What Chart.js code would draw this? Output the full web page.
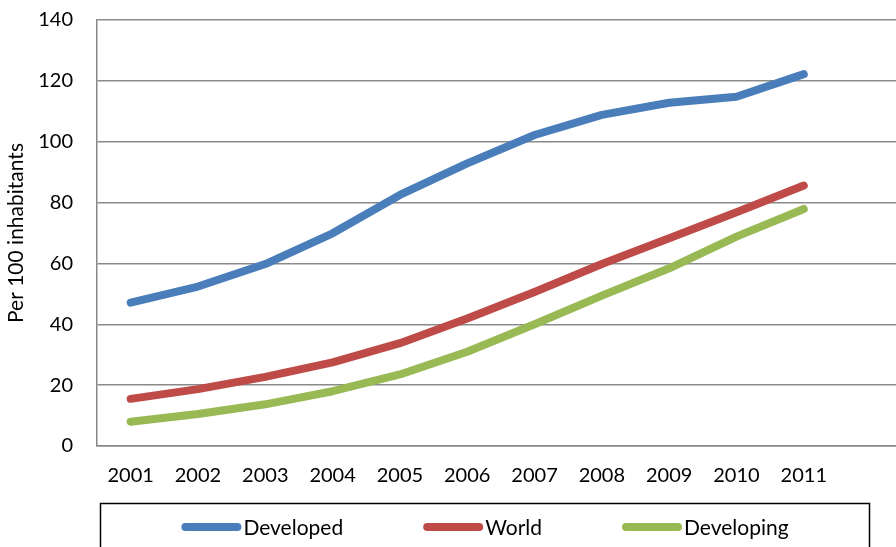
<!DOCTYPE html>
<html>
<head>
<meta charset="utf-8">
<script src="https://cdn.jsdelivr.net/npm/chart.js@4.4.0/dist/chart.umd.min.js"></script>
<style>
  html, body { margin: 0; padding: 0; background: #fff; overflow: hidden; }
  #wrap { width: 896px; height: 547px; position: relative; }
</style>
</head>
<body>
<div id="wrap"><canvas id="chart"></canvas></div>
<script>
// data (per 100 inhabitants)
var years = [2001, 2002, 2003, 2004, 2005, 2006, 2007, 2008, 2009, 2010, 2011];
var developed = [47.1, 52.4, 59.8, 69.9, 82.5, 92.9, 102.2, 108.8, 112.8, 114.8, 122.2];
var world = [15.5, 18.7, 22.7, 27.5, 33.8, 41.9, 50.6, 59.8, 68.3, 76.8, 85.6];
var developing = [8.0, 10.5, 13.7, 18.0, 23.5, 31.0, 40.0, 49.4, 58.4, 68.8, 77.9];
var yTicks = [0, 20, 40, 60, 80, 100, 120, 140];

var FONT = 'Lato';

function pts(vals) {
  return vals.map(function (v, i) { return { x: years[i], y: v }; });
}

function series(label, vals, color) {
  return {
    label: label,
    data: pts(vals),
    borderColor: color,
    backgroundColor: color,
    borderWidth: 8,
    borderCapStyle: 'round',
    borderJoinStyle: 'round',
    pointRadius: 0,
    tension: 0,
    fill: false
  };
}

// legend in a framed box under the axis, like the original
var boxLegend = {
  id: 'boxLegend',
  afterDraw: function (chart) {
    var ctx = chart.ctx;
    ctx.save();
    ctx.strokeStyle = '#000';
    ctx.lineWidth = 1.5;
    ctx.strokeRect(100.5, 503.5, 769, 70);
    ctx.font = '21px ' + FONT;
    var items = chart.data.datasets.map(function (d) {
      return { label: d.label, color: d.borderColor, w: 62 + ctx.measureText(d.label).width };
    });
    var gap = 80;
    var total = items.reduce(function (s, it) { return s + it.w; }, 0) + gap * (items.length - 1);
    var x = 485 - total / 2;
    var y = 527;
    items.forEach(function (it) {
      ctx.beginPath();
      ctx.lineCap = 'round';
      ctx.lineWidth = 8;
      ctx.strokeStyle = it.color;
      ctx.moveTo(x + 4, y);
      ctx.lineTo(x + 56, y);
      ctx.stroke();
      ctx.fillStyle = '#000';
      ctx.textBaseline = 'middle';
      ctx.textAlign = 'left';
      ctx.fillText(it.label, x + 62, y + 1);
      x += it.w + gap;
    });
    ctx.restore();
  }
};

new Chart(document.getElementById('chart'), {
  type: 'line',
  data: {
    datasets: [
      series('Developed', developed, '#4a7ebb'),
      series('World', world, '#be4b48'),
      series('Developing', developing, '#98b954')
    ]
  },
  options: {
    responsive: true,
    maintainAspectRatio: false,
    animation: false,
    layout: { padding: { top: 20, right: 0, bottom: 0, left: 0 } },
    plugins: {
      legend: { display: false },
      tooltip: { enabled: false }
    },
    scales: {
      x: {
        type: 'linear',
        min: 2000.5,
        max: 2012.37,
        afterBuildTicks: function (scale) {
          scale.ticks = years.map(function (v) { return { value: v }; });
        },
        afterFit: function (scale) {
          scale.height = 101;
          scale.paddingLeft = 0;
          scale.paddingRight = 0;
        },
        grid: { display: false, drawTicks: false },
        border: { display: true, color: '#888', width: 1.5 },
        ticks: {
          padding: 18,
          color: '#000',
          font: { family: FONT, size: 20 },
          maxRotation: 0,
          callback: function (v) { return String(v); }
        }
      },
      y: {
        min: 0,
        max: 140,
        afterBuildTicks: function (scale) {
          scale.ticks = yTicks.map(function (v) { return { value: v }; });
        },
        afterFit: function (scale) {
          scale.width = 97;
          scale.paddingTop = 0;
          scale.paddingBottom = 0;
        },
        grid: { color: '#8a8a8a', lineWidth: 1.5, drawTicks: false },
        border: { display: true, color: '#888', width: 1.5 },
        ticks: {
          padding: 24,
          color: '#000',
          font: { family: FONT, size: 20 }
        },
        title: {
          display: true,
          text: 'Per 100 inhabitants',
          color: '#000',
          font: { family: FONT, size: 21 },
          padding: { top: 4, bottom: 0 }
        }
      }
    }
  },
  plugins: [boxLegend]
});
</script>
</body>
</html>
